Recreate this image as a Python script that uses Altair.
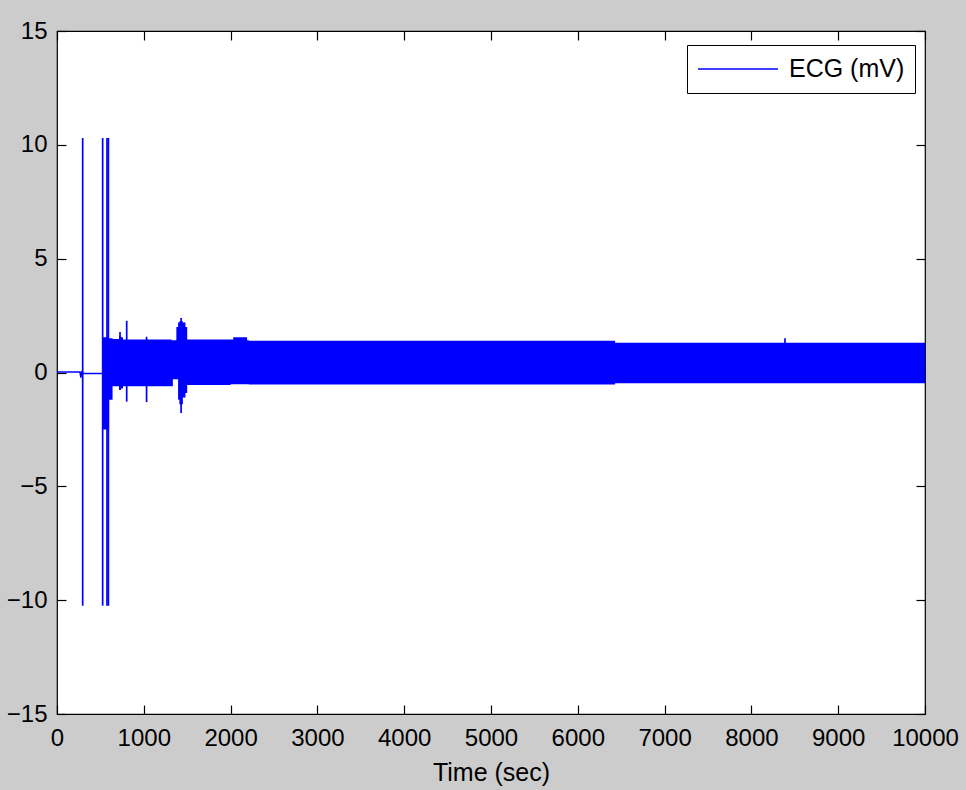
import altair as alt
import pandas as pd

# ---- data ----
# flat baseline before the recording starts (sec, mV)
flat_t = [0, 265, 275, 285, 300, 530]
flat_v = [0.02, 0.02, -0.23, 0.02, -0.04, -0.04]

# envelope of the dense ECG trace (sec, lower mV, upper mV), held until next time
band_t = [530, 600, 640, 700, 715, 735, 760, 1000, 1320, 1335, 1375, 1395,
          1410, 1450, 1480, 1500, 2000, 2030, 2190, 2210, 6430, 10000]
band_lo = [-2.5, -1.2, -0.6, -0.6, -0.77, -0.7, -0.6, -0.6, -0.6, -0.3, -0.3, -1.2,
           -1.4, -1.1, -0.9, -0.55, -0.52, -0.52, -0.52, -0.53, -0.47, -0.47]
band_hi = [1.55, 1.5, 1.47, 1.47, 1.6, 1.55, 1.45, 1.45, 1.42, 1.42, 2.0, 2.2,
           2.25, 2.2, 2.0, 1.45, 1.45, 1.55, 1.42, 1.40, 1.31, 1.31]

# isolated spikes (sec, lower mV, upper mV)
spike_t = [296, 526, 576, 592, 726, 803, 1032, 1430, 8387]
spike_lo = [-10.25, -10.25, -10.25, -10.25, -0.77, -1.28, -1.30, -1.78, -0.45]
spike_hi = [10.3, 10.3, 10.3, 10.3, 1.78, 2.27, 1.57, 2.39, 1.50]

series_name = ["ECG (mV)"]
x_ticks = list(range(0, 10001, 1000))
y_ticks = [-15, -10, -5, 0, 5, 10, 15]

flat_df = pd.DataFrame({"t": flat_t, "v": flat_v, "s": series_name * len(flat_t)})
band_df = pd.DataFrame({"t": band_t, "lo": band_lo, "hi": band_hi})
spike_df = pd.DataFrame({"t": spike_t, "lo": spike_lo, "hi": spike_hi})

FONT = "Liberation Sans"
BLUE = "#0000FF"
W, H = 868, 683

xs = alt.Scale(domain=[0, 10000], nice=False, zero=False)
ys = alt.Scale(domain=[-15, 15], nice=False, zero=False)

x_bottom = alt.Axis(orient="bottom", offset=-9, tickSize=9, values=x_ticks, format="d",
                    labelFontSize=24, labelFont=FONT, labelColor="black", labelPadding=12,
                    labelFlush=False, labelOverlap=False, domain=False, grid=False,
                    tickColor="black", tickWidth=1.2,
                    title="Time (sec)", titleFont=FONT, titleFontSize=25,
                    titleFontWeight="normal", titleColor="black",
                    titleBaseline="alphabetic", titleY=75)
y_left = alt.Axis(orient="left", offset=-9, tickSize=9, values=y_ticks,
                  labelFontSize=24, labelFont=FONT, labelColor="black", labelPadding=10,
                  labelFlush=False, labelOverlap=False, domain=False, grid=False,
                  tickColor="black", tickWidth=1.2, title=None)
x_top = alt.Axis(orient="top", offset=-9, tickSize=9, values=x_ticks, labels=False,
                 domain=False, grid=False, tickColor="black", tickWidth=1.2, title=None)
y_right = alt.Axis(orient="right", offset=-9, tickSize=9, values=y_ticks, labels=False,
                   domain=False, grid=False, tickColor="black", tickWidth=1.2, title=None)

band = alt.Chart(band_df).mark_area(color=BLUE, opacity=1, interpolate="step-after").encode(
    x=alt.X("t:Q", scale=xs, axis=x_bottom),
    y=alt.Y("lo:Q", scale=ys, axis=y_left),
    y2="hi:Q",
)

spikes = alt.Chart(spike_df).mark_rule(color=BLUE, strokeWidth=1.7).encode(
    x=alt.X("t:Q", scale=xs, axis=x_top),
    y=alt.Y("lo:Q", scale=ys, axis=y_right),
    y2="hi:Q",
)

flat = alt.Chart(flat_df).mark_line(strokeWidth=1.5).encode(
    x=alt.X("t:Q", scale=xs, axis=None),
    y=alt.Y("v:Q", scale=ys, axis=None),
    color=alt.Color("s:N", scale=alt.Scale(range=[BLUE]),
                    legend=alt.Legend(title=None, orient="none", legendX=630, legendY=14,
                                      padding=10, strokeColor="black", fillColor="white",
                                      symbolType="stroke", symbolSize=6400, clipHeight=28,
                                      symbolStrokeWidth=1.5, labelOffset=10,
                                      labelFont=FONT, labelFontSize=25,
                                      labelColor="black")),
)

chart = alt.layer(band, spikes, flat).resolve_axis(
    x="independent", y="independent"
).properties(
    width=W, height=H,
    autosize=alt.AutoSizeParams(type="none"),
    padding={"left": 57, "top": 31, "right": 41, "bottom": 76},
    background="#CCCCCC",
).configure_view(fill="white", stroke="black", strokeWidth=1.2)

chart.save("out.html", embed_options={"renderer": "svg", "actions": False})
